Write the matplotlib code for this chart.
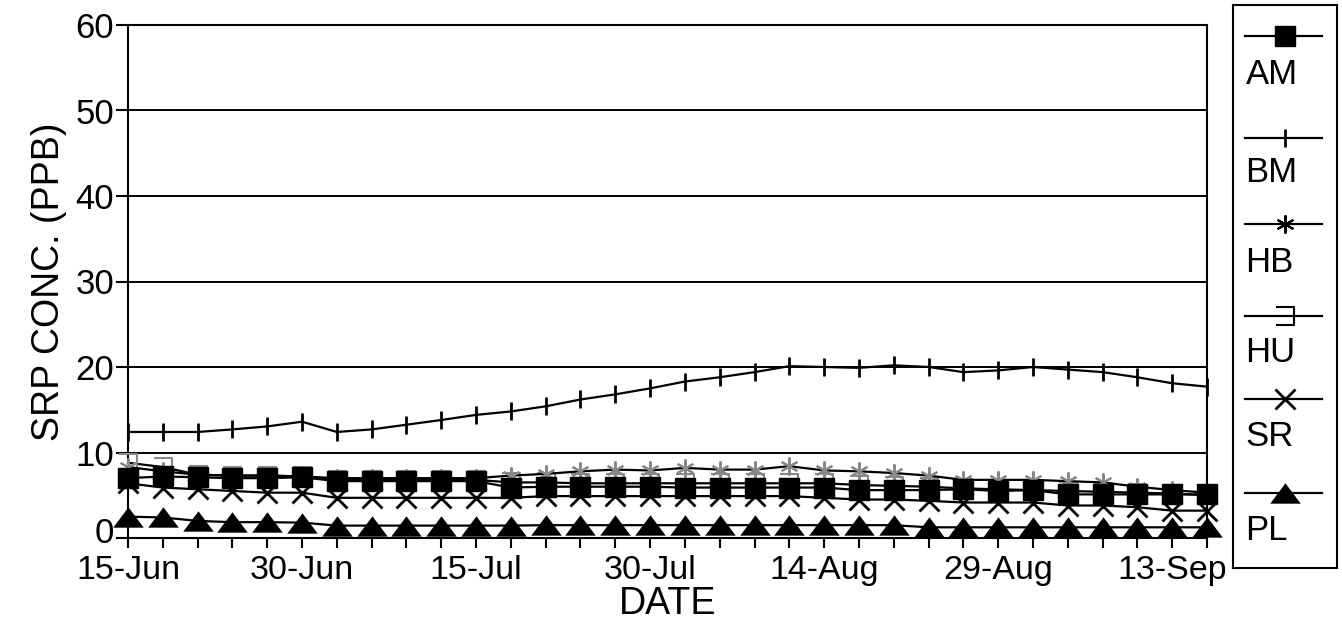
import matplotlib
matplotlib.use("Agg")
import matplotlib.pyplot as plt
import matplotlib.dates as mdates
import matplotlib.transforms as mtransforms
from matplotlib.path import Path
import pandas as pd

plt.rcParams['font.family'] = ['Liberation Sans', 'DejaVu Sans']

# sampling dates (every 3 days from 15-Jun)
dates = pd.date_range("1990-06-15", periods=32, freq="3D")
tick_label_dates = pd.date_range("1990-06-15", periods=7, freq="15D")

AM = [7.0, 7.2, 7.1, 7.0, 7.0, 7.1, 6.65, 6.65, 6.65, 6.65, 6.65, 5.9, 6.0, 6.0, 6.0, 6.0,
      5.9, 5.9, 5.9, 5.9, 5.9, 5.6, 5.6, 5.6, 5.7, 5.5, 5.6, 5.1, 5.1, 5.1, 5.1, 5.1]
BM = [12.4, 12.4, 12.4, 12.7, 13.05, 13.6, 12.4, 12.7, 13.25, 13.8, 14.4, 14.8, 15.4, 16.2, 16.8, 17.5,
      18.3, 18.8, 19.4, 20.1, 20.0, 19.9, 20.2, 20.0, 19.4, 19.6, 20.0, 19.7, 19.4, 18.8, 18.1, 17.7]
HB = [8.3, 7.8, 7.4, 7.3, 7.3, 7.2, 7.0, 7.0, 7.0, 7.0, 7.0, 7.3, 7.5, 7.8, 8.0, 7.9,
      8.2, 8.0, 8.0, 8.4, 7.9, 7.8, 7.6, 7.3, 6.8, 6.8, 6.8, 6.65, 6.5, 6.0, 5.6, 5.3]
HU = [8.8, 8.3, 7.4, 7.3, 7.3, 7.2, 6.8, 6.8, 6.8, 6.8, 6.8, 6.5, 6.5, 6.4, 6.4, 6.4,
      6.4, 6.4, 6.4, 6.4, 6.4, 6.2, 6.1, 6.0, 5.8, 5.7, 5.6, 5.5, 5.4, 5.3, 5.2, 5.0]
SR = [6.4, 5.9, 5.7, 5.5, 5.3, 5.3, 4.7, 4.7, 4.7, 4.7, 4.7, 4.7, 4.9, 4.9, 4.9, 4.9,
      4.9, 4.9, 4.9, 4.9, 4.7, 4.5, 4.5, 4.35, 4.15, 4.15, 4.15, 3.8, 3.8, 3.6, 3.2, 3.2]
PL = [2.5, 2.4, 2.0, 1.85, 1.85, 1.8, 1.45, 1.45, 1.45, 1.45, 1.45, 1.45, 1.5, 1.5, 1.5, 1.5,
      1.5, 1.5, 1.5, 1.5, 1.5, 1.5, 1.5, 1.25, 1.25, 1.25, 1.25, 1.25, 1.25, 1.25, 1.25, 1.25]

series_names = ["AM", "BM", "HB", "HU", "SR", "PL"]

hu_marker = Path([(-1, 1), (1, 1), (1, -1), (-1, -1)],
                 [Path.MOVETO, Path.LINETO, Path.LINETO, Path.LINETO])
tri_marker = [(-1.5, -1), (1.5, -1), (0, 1), (-1.5, -1)]

styles = {
    "PL": dict(marker=tri_marker, ms=22, color="black", mfc="black", mec="black", mew=0),
    "SR": dict(marker="x", ms=14, color="black", mew=2),
    "HU": dict(marker=hu_marker, ms=13, color="black", mfc="none", mec="#888888", mew=1.5),
    "HB": dict(marker=(6, 2, 0), ms=13, color="black", mec="#888888", mew=1.5),
    "AM": dict(marker="s", ms=14, color="black", mfc="black", mec="black"),
    "BM": dict(marker="|", ms=13, color="black", mew=2),
}
values = {"AM": AM, "BM": BM, "HB": HB, "HU": HU, "SR": SR, "PL": PL}

W, H = 1342, 634
fig = plt.figure(figsize=(W / 100, H / 100), dpi=100)
ax = fig.add_axes([128 / W, 1 - 538 / H, (1207 - 128) / W, (538 - 25) / H])

for name in ["PL", "SR", "HU", "HB", "AM", "BM"]:
    ax.plot(dates, values[name], lw=1.6, clip_on=False, zorder=3, **styles[name])

ax.set_ylim(0, 60)
ax.set_xlim(dates[0], dates[-1])
ax.set_yticks(range(0, 61, 10))
for y in range(10, 61, 10):
    ax.axhline(y, color="black", lw=1.4, zorder=1)

ax.set_xticks(dates, minor=True)
ax.set_xticks(tick_label_dates)
ax.xaxis.set_major_formatter(mdates.DateFormatter("%d-%b"))
ax.tick_params(axis="x", which="both", direction="out", length=7, width=1.5, labelsize=24.5, pad=5)
ax.tick_params(axis="y", direction="out", length=9, width=1.5, labelsize=25, pad=1)
for s in ax.spines.values():
    s.set_linewidth(1.5)

# lift the "0" label slightly so it sits above the first date label
zero_label = ax.yaxis.get_major_ticks()[0].label1
zero_label.set_transform(zero_label.get_transform() +
                         mtransforms.ScaledTranslation(0, 8 / 100, fig.dpi_scale_trans))

ax.set_xlabel("DATE", fontsize=27, labelpad=0)
ax.set_ylabel("SRP CONC. (PPB)", fontsize=27, labelpad=6)

# legend panel
LB = 568
lax = fig.add_axes([1233 / W, 1 - LB / H, (1337 - 1233) / W, (LB - 5) / H])
lax.set_xlim(0, 1)
lax.set_ylim(LB, 5)
lax.set_xticks([])
lax.set_yticks([])
for s in lax.spines.values():
    s.set_linewidth(1.5)
line_y = [36, 138, 224, 316, 399, 493]
text_y = [75, 173, 263, 352, 436, 530]
leg_styles = dict(styles)
leg_styles["HU"] = dict(styles["HU"], mec="black")
leg_styles["HB"] = dict(styles["HB"], mec="black")
for name, ly, ty in zip(series_names, line_y, text_y):
    lax.plot([0.12, 0.5, 0.86], [ly, ly, ly], lw=1.6, markevery=[1], **leg_styles[name])
    lax.text(0.12, ty, name, fontsize=25, va="center", ha="left")

fig.savefig("out.png", dpi=100)
